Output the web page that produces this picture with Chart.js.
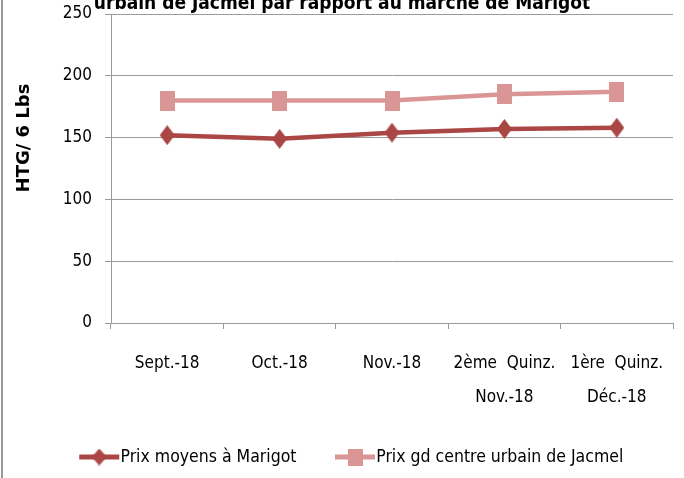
<!DOCTYPE html>
<html>
<head>
<meta charset="utf-8">
<script src="https://cdn.jsdelivr.net/npm/chart.js@4/dist/chart.umd.min.js"></script>
<style>
  html, body { margin: 0; padding: 0; background: #fff; overflow: hidden; }
  #frame { position: relative; width: 684px; height: 478px; overflow: hidden; }
  #wrap { position: absolute; left: 0; top: -6px; width: 684px; height: 492px; }
  #edge { position: absolute; left: 1px; top: 0; width: 2px; height: 478px; background: #9a9a9a; }
</style>
</head>
<body>
<div id="frame">
  <div id="wrap"><canvas id="chart"></canvas></div>
  <div id="edge"></div>
</div>
<script>
const titleText = 'urbain de Jacmel par rapport au marché de Marigot';
const yTitle = 'HTG/ 6 Lbs';
const categories = ['Sept.-18', 'Oct.-18', 'Nov.-18', ['2ème  Quinz.', 'Nov.-18'], ['1ère  Quinz.', 'Déc.-18']];
const seriesNames = ['Prix moyens à Marigot', 'Prix gd centre urbain de Jacmel'];
const marigot = [152, 149, 154, 157, 158];
const jacmel = [180, 180, 180, 185, 187];
const yMin = 0, yMax = 250, yStep = 50;

const RED = '#aa4643';
const PINK = '#d99694';
const GRID = '#9a9a9a';
const FONT = "'Liberation Sans Narrow', 'DejaVu Sans Condensed', sans-serif";

function marker(shape, color, w, h) {
  const c = document.createElement('canvas');
  c.width = w; c.height = h;
  const g = c.getContext('2d');
  g.fillStyle = color;
  if (shape === 'diamond') {
    g.beginPath();
    g.moveTo(w / 2, 0); g.lineTo(w, h / 2); g.lineTo(w / 2, h); g.lineTo(0, h / 2);
    g.closePath(); g.fill();
  } else {
    g.fillRect(0, 0, w, h);
  }
  return c;
}

// line + marker sample, drawn to the right of the legend box centre
function legendIcon(shape, color) {
  const c = document.createElement('canvas');
  c.width = 80; c.height = 20;
  const g = c.getContext('2d');
  g.strokeStyle = color; g.lineWidth = 5;
  g.beginPath(); g.moveTo(33, 10); g.lineTo(73, 10); g.stroke();
  g.drawImage(marker(shape, color, 15, 17), 53 - 7.5, 10 - 8.5);
  return c;
}

const yTitlePlugin = {
  id: 'yTitle',
  afterDraw(chart) {
    const ctx = chart.ctx;
    ctx.save();
    ctx.translate(24, 144);
    ctx.rotate(-Math.PI / 2);
    ctx.font = "bold 18px 'DejaVu Sans', sans-serif";
    ctx.fillStyle = '#000';
    ctx.textAlign = 'center';
    ctx.textBaseline = 'middle';
    ctx.fillText(yTitle, 0, 0);
    ctx.restore();
  }
};

new Chart(document.getElementById('chart'), {
  type: 'line',
  data: {
    labels: categories,
    datasets: [
      {
        label: seriesNames[0], data: marigot, borderColor: RED, backgroundColor: RED,
        borderWidth: 4.5, tension: 0, pointStyle: marker('diamond', RED, 15, 20)
      },
      {
        label: seriesNames[1], data: jacmel, borderColor: PINK, backgroundColor: PINK,
        borderWidth: 4.5, tension: 0, pointStyle: marker('square', PINK, 15, 20)
      }
    ]
  },
  options: {
    responsive: true, maintainAspectRatio: false, animation: false,
    layout: { padding: { left: 0, right: 0, top: 0, bottom: 10.25 } },
    plugins: {
      title: {
        display: true, text: titleText, color: '#000',
        font: { family: FONT, size: 19, weight: 'bold', lineHeight: 1 },
        padding: { top: 1, bottom: 0 }
      },
      legend: {
        position: 'bottom',
        labels: {
          color: '#000', font: { family: FONT, size: 17.5 },
          usePointStyle: true, pointStyleWidth: 51, padding: 20,
          generateLabels: chart => chart.data.datasets.map((ds, i) => ({
            text: ds.label, datasetIndex: i, hidden: false, lineWidth: 0,
            pointStyle: legendIcon(i === 0 ? 'diamond' : 'square', ds.borderColor)
          }))
        }
      },
      tooltip: { enabled: false }
    },
    scales: {
      x: {
        offset: true,
        grid: { display: true, offset: true, drawOnChartArea: false, drawTicks: true, tickLength: 6, color: GRID },
        border: { display: true, color: GRID },
        ticks: { color: '#000', font: { family: FONT, size: 17, lineHeight: 2 }, padding: 18, maxRotation: 0, autoSkip: false },
        afterFit(s) { s.height = 105.25; }
      },
      y: {
        min: yMin, max: yMax,
        grid: { color: GRID, tickLength: 6 },
        border: { display: true, color: GRID },
        ticks: { stepSize: yStep, color: '#000', font: { family: FONT, size: 17, lineHeight: 0.6 }, padding: 13 },
        afterFit(s) { s.width = 111; }
      },
      y2: {
        position: 'right', display: true,
        grid: { display: false }, border: { display: false },
        ticks: { display: false },
        afterFit(s) { s.width = 11; }
      }
    }
  },
  plugins: [yTitlePlugin]
});
</script>
</body>
</html>
